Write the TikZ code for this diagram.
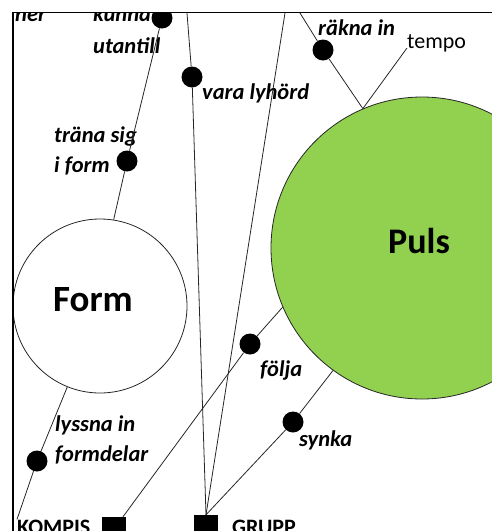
\documentclass[tikz,border=0pt]{standalone}
\usepackage{fontspec}
\setmainfont{Carlito}
\definecolor{pulsgreen}{HTML}{92D050}
\tikzset{
	dot/.style={circle, fill=black, inner sep=0pt, minimum size=21pt},
	box/.style={rectangle, fill=black, inner sep=0pt, minimum size=24pt},
	bubble/.style={circle, draw=black!85, line width=0.8pt, inner sep=0pt},
	lbl/.style={anchor=base west, inner sep=0pt, font=\bfseries\itshape\fontsize{22.5}{26}\selectfont},
	tag/.style={anchor=base west, inner sep=0pt, font=\bfseries\fontsize{22}{26}\selectfont},
	link/.style={line width=0.8pt, color=black!85}
}

\begin{document}
\begin{tikzpicture}[x=1pt, y=-1pt]
		%%%%% START %%%%%
		\useasboundingbox (0, 0) rectangle (492, 531);
		
		\begin{scope}
		\clip (13, 13) rectangle (492, 531);
		
		\node[bubble, fill=pulsgreen, minimum size=302pt] (puls) at (422, 248) {};
		\node[font=\bfseries\fontsize{36}{42}\selectfont] (pulstxt) at (419, 241) {Puls};
		\node[bubble, fill=white, minimum size=174pt] (form) at (100, 306) {};
		\node[font=\bfseries\fontsize{37}{43}\selectfont] (formtxt) at (93, 300) {Form};
		
		\node[box] (kompis) at (114, 529) {};
		\node[box] (grupp) at (206, 527) {};
		
		\coordinate (topB) at (187, 13);
		\coordinate (topC) at (285, 13);
		\coordinate (topD) at (300, 13);
		
		\node[dot] (kunna) at (162, 18) {};
		\node[dot] (lyhord) at (192, 77) {};
		\node[dot] (rakna) at (323, 50) {};
		\node[dot] (trana) at (127, 161) {};
		\node[dot] (folja) at (250, 344) {};
		\node[dot] (synka) at (293, 422) {};
		\node[dot] (lyssna) at (37, 461) {};
		
		\node[lbl] (nerlbl) at (15, 21) {ner};
		\node[lbl] (kunnalbl) at (93, 21) {kunna};
		\node[lbl] (utantilllbl) at (93, 53) {utantill};
		\node[lbl] (lyhordlbl) at (202, 99) {vara lyhörd};
		\node[lbl] (raknalbl) at (318, 35) {räkna in};
		\node[anchor=base west, inner sep=0pt, font=\fontsize{22}{26}\selectfont] (tempo) at (407, 48) {tempo};
		\node[lbl] (tranalbl) at (54, 142) {träna sig};
		\node[lbl] (iformlbl) at (54, 172) {i form};
		\node[lbl] (lyssnalbl) at (55, 431) {lyssna in};
		\node[lbl] (formdelarlbl) at (55, 461) {formdelar};
		\node[lbl] (foljalbl) at (260, 376) {följa};
		\node[lbl] (synkalbl) at (299, 446) {synka};
		\node[tag] (kompislbl) at (17, 534) {KOMPIS};
		\node[tag] (grupplbl) at (232, 534) {GRUPP};
		
		\draw[link] (kunna) -- (trana) -- (form.81);
		\draw[link] (topB) -- (lyhord) -- (grupp.north);
		\draw[link] (topC) -- (grupp.north);
		\draw[link] (topD) -- (rakna) -- (puls.113);
		\draw[link] (puls.113) -- (tempo.base west);
		\draw[link] (kompis) -- (folja) -- (puls.203);
		\draw[link] (grupp.north) -- (synka) -- (puls.234);
		\draw[link] (form.248) -- (lyssna) -- (kompislbl.north west);
		\end{scope}
		
		\draw[line width=1.6pt] (13, 531) -- (13, 12.5) -- (492, 12.5);
		%%%%% END %%%%%
\end{tikzpicture}
\end{document}
